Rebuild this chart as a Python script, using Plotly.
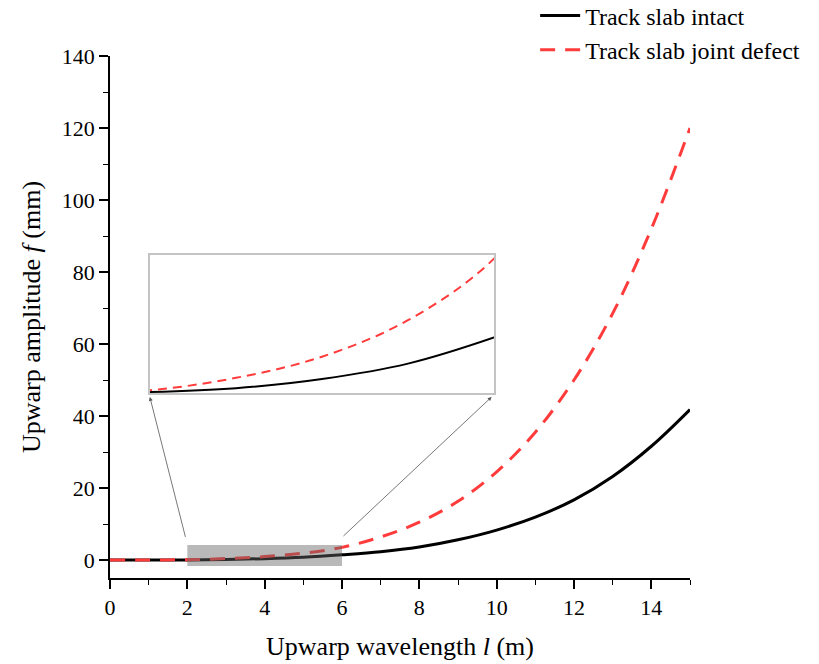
import plotly.graph_objects as go

# Data
wavelength = [0, 1, 2, 3, 4, 5, 6, 7, 8, 9, 10, 11, 12, 13, 14, 15]
intact = [0, 0.005, 0.03, 0.13, 0.37, 0.77, 1.45, 2.3, 3.6, 5.6, 8.3, 11.9, 16.7, 23.2, 31.6, 41.8]
joint_defect = [0, 0.01, 0.08, 0.4, 0.95, 1.9, 3.5, 6.4, 10.5, 16.3, 24.5, 35.5, 50.0, 68.5, 92.0, 120.0]
x_ticks = [0, 2, 4, 6, 8, 10, 12, 14]
y_ticks = [0, 20, 40, 60, 80, 100, 120, 140]

SERIF = "Liberation Serif, Times New Roman, serif"
RED = "#ff3b3b"

fig = go.Figure()

# main traces
fig.add_trace(go.Scatter(x=wavelength, y=intact, mode="lines", name="Track slab intact",
                         line=dict(color="black", width=3, shape="spline"),
                         xaxis="x", yaxis="y"))
fig.add_trace(go.Scatter(x=wavelength, y=joint_defect, mode="lines", name="Track slab joint defect",
                         line=dict(color=RED, width=3, dash="15px,10px", shape="spline"),
                         xaxis="x", yaxis="y"))

# inset traces
fig.add_trace(go.Scatter(x=wavelength, y=intact, mode="lines", showlegend=False,
                         line=dict(color="black", width=2, shape="spline"),
                         xaxis="x2", yaxis="y2"))
fig.add_trace(go.Scatter(x=wavelength, y=joint_defect, mode="lines", showlegend=False,
                         line=dict(color=RED, width=2, dash="9px,6px", shape="spline"),
                         xaxis="x2", yaxis="y2"))

tick_font = dict(family=SERIF, size=22, color="black")
title_font = dict(family=SERIF, size=26, color="black")

fig.update_layout(
    width=819, height=664,
    margin=dict(l=110, r=129, t=56, b=86, autoexpand=False),
    paper_bgcolor="white", plot_bgcolor="rgba(0,0,0,0)",
    font=dict(family=SERIF, color="black"),
    xaxis=dict(range=[0, 15], tickvals=x_ticks, showgrid=False, zeroline=False,
               showline=True, linecolor="black", linewidth=1.5,
               ticks="outside", ticklen=9, tickwidth=1.5, tickcolor="black",
               minor=dict(dtick=1, ticks="outside", ticklen=5, tickwidth=1.2, tickcolor="black"),
               tickfont=tick_font,
               title=dict(text="Upwarp wavelength <i>l</i> (m)", font=title_font, standoff=18)),
    yaxis=dict(range=[-5, 140], tickvals=y_ticks, showgrid=False, zeroline=False,
               showline=True, linecolor="black", linewidth=1.5,
               ticks="outside", ticklen=9, tickwidth=1.5, tickcolor="black",
               minor=dict(dtick=10, ticks="outside", ticklen=5, tickwidth=1.2, tickcolor="black"),
               tickfont=tick_font,
               title=dict(text="Upwarp amplitude <i>f</i> (mm)", font=title_font, standoff=14)),
    xaxis2=dict(domain=[0.069, 0.662], anchor="y2", range=[2, 6], showgrid=False,
                zeroline=False, showticklabels=False, ticks="",
                showline=True, mirror=True, linecolor="#c4c4c4", linewidth=1.5),
    yaxis2=dict(domain=[0.354, 0.619], anchor="x2", range=[0, 3.6], showgrid=False,
                zeroline=False, showticklabels=False, ticks="",
                showline=True, mirror=True, linecolor="#c4c4c4", linewidth=1.5),
    legend=dict(x=0.733, y=1.12, xanchor="left", yanchor="top",
                bgcolor="rgba(0,0,0,0)", font=dict(family=SERIF, size=24, color="black"),
                tracegroupgap=0, itemwidth=40),
    showlegend=True,
)

# gray highlight box on the main plot
fig.add_shape(type="rect", xref="x", yref="y", x0=2, x1=6, y0=-1.7, y1=4.2,
              fillcolor="rgba(100,100,100,0.45)", line=dict(width=0), layer="above")

# connector arrows
fig.add_annotation(x=1.03, y=45.3, ax=1.96, ay=6.0, xref="x", yref="y", axref="x", ayref="y",
                   showarrow=True, arrowhead=2, arrowsize=1, arrowwidth=0.8, arrowcolor="#555555", text="")
fig.add_annotation(x=9.87, y=45.3, ax=6.0, ay=6.3, xref="x", yref="y", axref="x", ayref="y",
                   showarrow=True, arrowhead=2, arrowsize=1, arrowwidth=0.8, arrowcolor="#555555", text="")

fig.write_html("out.html")
